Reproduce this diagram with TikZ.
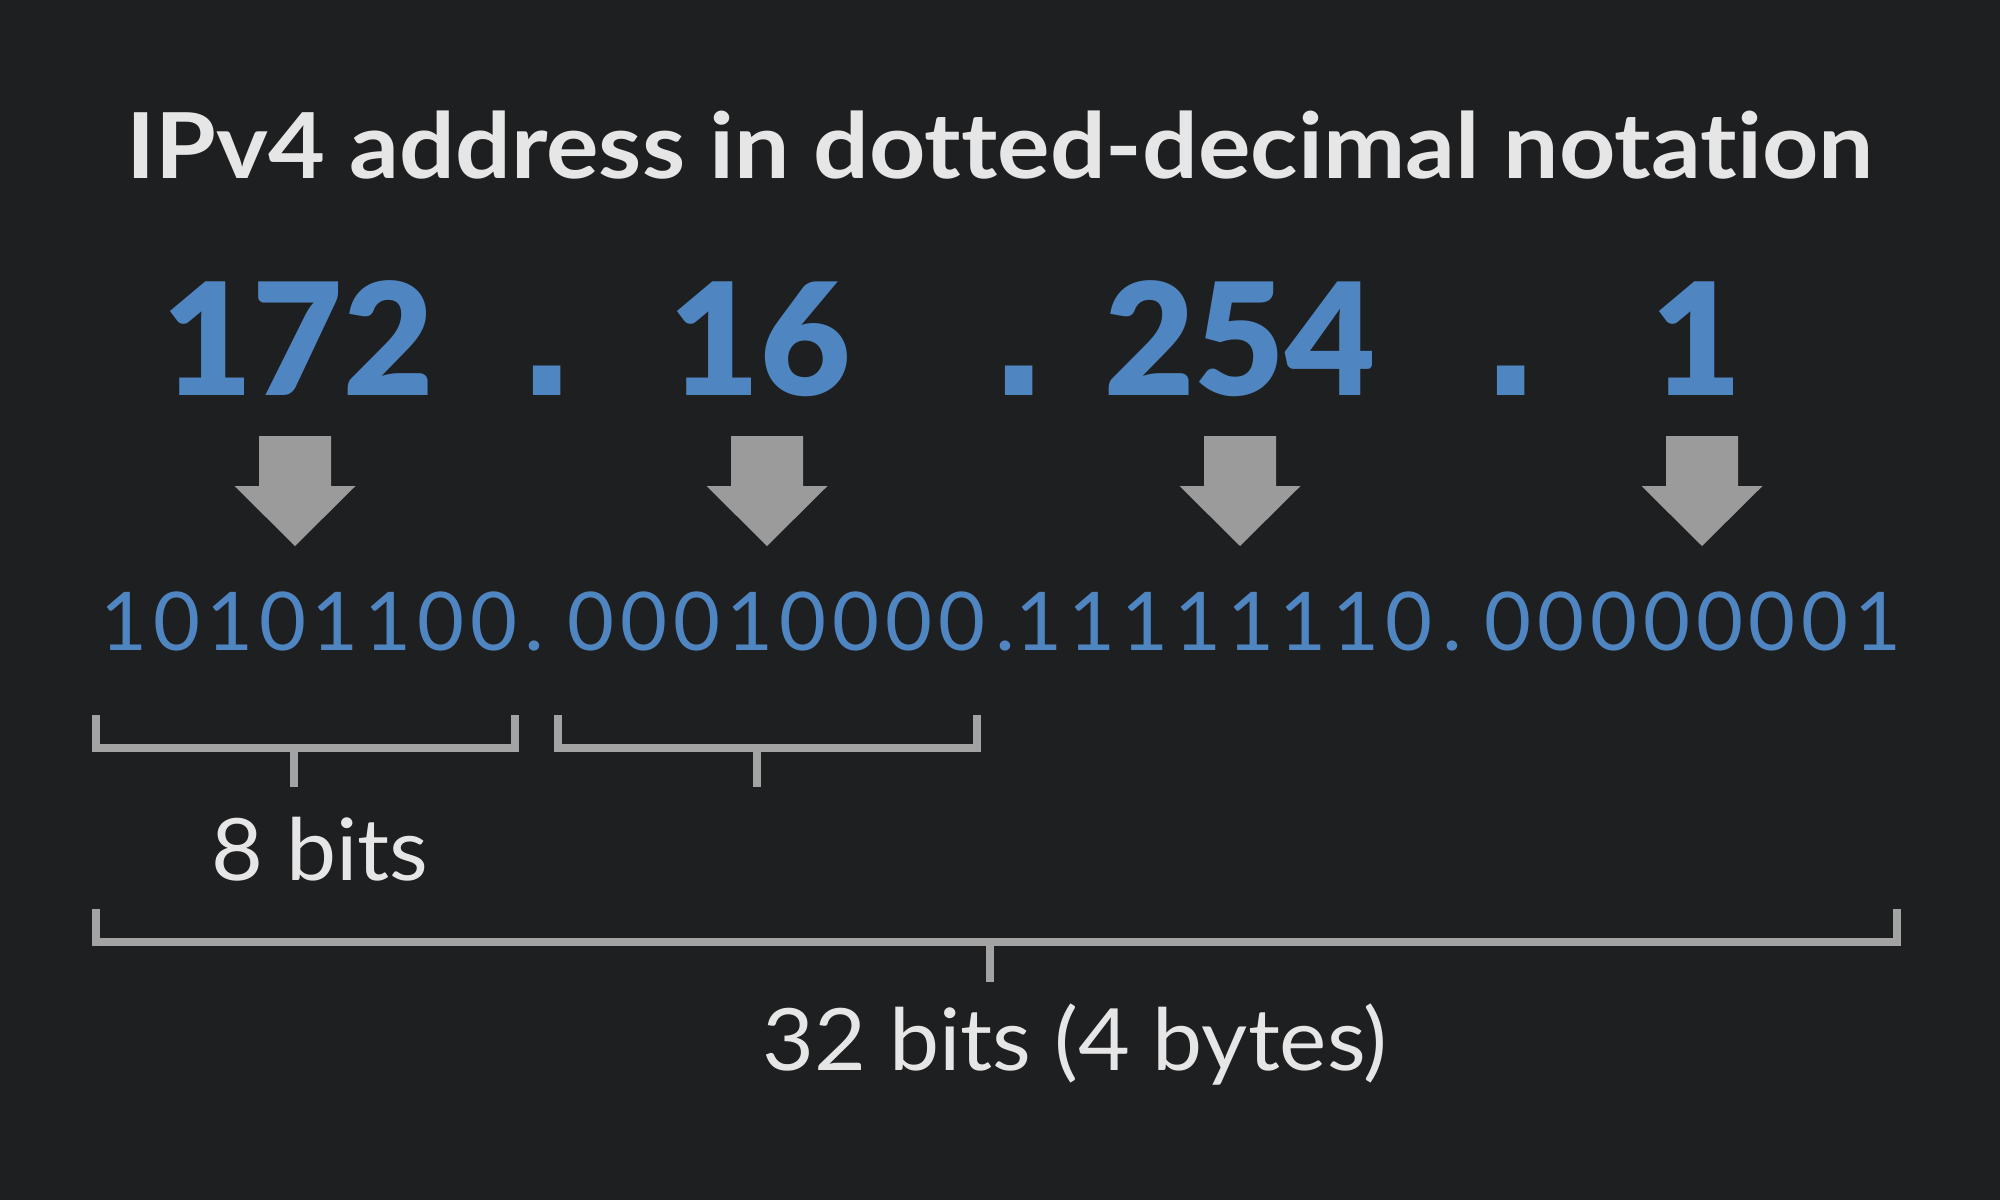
\documentclass[tikz,border=0pt]{standalone}
\usepackage{fontspec}
\setmainfont{Lato}[Ligatures=NoCommon]
\newfontfamily\titlefont{Lato}[Ligatures=NoCommon, FakeStretch=1.08]
\newfontfamily\labelfont{Lato}[Ligatures=NoCommon, FakeStretch=1.04]
\newfontfamily\numfont{Lato Black}
\newfontfamily\dotfont{DejaVu Sans}
\newfontfamily\binfont{Lato}[Numbers=Monospaced, LetterSpace=7.4]
\definecolor{bg}{HTML}{1E1F21}
\definecolor{ipblue}{HTML}{4F86C1}
\definecolor{arrowgray}{HTML}{9B9B9B}
\definecolor{brgray}{HTML}{A3A3A3}
\definecolor{txt}{HTML}{E6E6E6}
\tikzset{
  plain/.style={inner sep=0pt, outer sep=0pt, anchor=base},
  titletext/.style={plain, text=txt, font=\titlefont\bfseries\fontsize{45.5}{50}\selectfont},
  labeltext/.style={plain, text=txt, font=\labelfont\fontsize{43}{48}\selectfont},
  bignum/.style={plain, text=ipblue, font=\numfont\fontsize{78}{80}\selectfont},
  bigdot/.style={plain, text=ipblue, font=\dotfont\bfseries\fontsize{78}{80}\selectfont},
  bintext/.style={plain, text=ipblue, font=\binfont\fontsize{40.5}{46}\selectfont},
  bindot/.style={plain, text=ipblue, font=\labelfont\fontsize{40.5}{46}\selectfont},
  downarrow/.style={fill=arrowgray},
  bracketline/.style={draw=brgray, line width=4pt, line join=miter},
}
\begin{document}
\begin{tikzpicture}[x=0.5pt,y=-0.5pt]
\fill[bg] (0,0) rectangle (2000,1200);
\useasboundingbox (0,0) rectangle (2000,1200);

\node[titletext] (title) at (1000,178) {IPv4 address in dotted-decimal notation};

\node[bignum] (n1) at (298,395) {172};
\node[bigdot] (d1) at (547,395) {.};
\node[bignum] (n2) at (760,395) {16};
\node[bigdot] (d2) at (1019,395) {.};
\node[bignum] (n3) at (1240,395) {254};
\node[bigdot] (d3) at (1511,395) {.};
\node[bignum] (n4) at (1697,395) {1};

\foreach \x in {295,767,1240,1702}{
  \fill[downarrow] (\x-36,436) -- (\x+36,436) -- (\x+36,486) -- (\x+60.5,486)
    -- (\x,546) -- (\x-60.5,486) -- (\x-36,486) -- cycle;
}

\node[bintext] (b1) at (309,650) {10101100};
\node[bindot] (bd1) at (534,650) {.};
\node[bintext] (b2) at (776.5,650) {00010000};
\node[bindot] (bd2) at (1005,650) {.};
\node[bintext] (b3) at (1224,650) {11111110};
\node[bindot] (bd3) at (1452,650) {.};
\node[bintext] (b4) at (1693,650) {00000001};

\draw[bracketline] (96,715) -- (96,748) -- (515,748) -- (515,715);
\draw[bracketline] (294,748) -- (294,787);
\draw[bracketline] (558,715) -- (558,748) -- (977,748) -- (977,715);
\draw[bracketline] (757,748) -- (757,787);

\node[labeltext] (lab8) at (320,880) {8 bits};

\draw[bracketline] (96,909) -- (96,942) -- (1897,942) -- (1897,909);
\draw[bracketline] (990,942) -- (990,982);

\node[labeltext] (lab32) at (1075,1070) {32 bits (4 bytes)};
\end{tikzpicture}
\end{document}
